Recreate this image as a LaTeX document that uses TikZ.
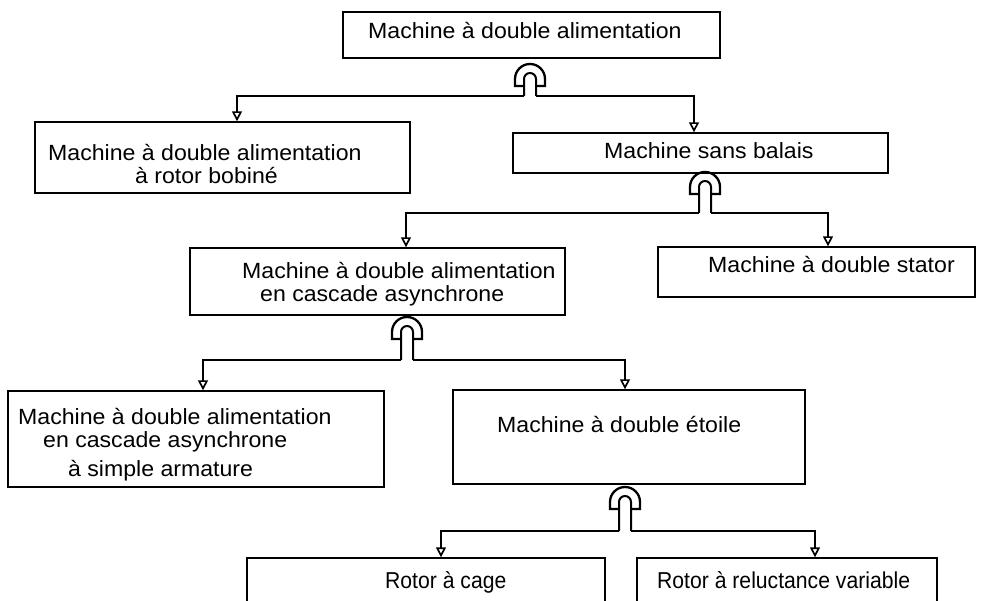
\documentclass[tikz,border=0pt]{standalone}
\usepackage{fontspec}
\setmainfont{Liberation Sans}[FakeStretch=1.05]
\newfontfamily\etroite{Liberation Sans}[FakeStretch=0.92]
\usetikzlibrary{arrows.meta}

\begin{document}
\begin{tikzpicture}[x=1pt,y=-1pt,
	boite/.style={draw,line width=1.4pt,inner sep=0pt},
	etiq/.style={inner sep=0pt,anchor=north west,align=left,font=\fontsize{22}{23}\selectfont},
	etiqbas/.style={inner sep=0pt,anchor=base west,font=\etroite\fontsize{23}{25}\selectfont},
	fleche/.style={line width=1.4pt,-{Triangle[open,length=10pt,width=10pt,line width=1.7pt]}},
	arche/.pic={
		\draw[line width=2.3pt] (-6,7) -- (-15,7) -- (-15,0) arc[start angle=180,end angle=360,radius=15] -- (15,7) -- (6,7);
		\draw[line width=2pt] (-6,#1) -- (-6,0) arc[start angle=180,end angle=360,radius=6] -- (6,#1);
		\coordinate (-l) at (-6,#1);
		\coordinate (-r) at (6,#1);
	}]
	\useasboundingbox (0,0) rectangle (983,601);
	\fill[white] (0,0) rectangle (983,601);
	\clip (0,0) rectangle (983,601);
%	les boites
	\node[boite,minimum width=377,minimum height=46] (mda) at (531.5,35) {};
	\node[boite,minimum width=375,minimum height=71] (bob) at (222.5,157.5) {};
	\node[boite,minimum width=375,minimum height=40] (sb) at (700.5,153) {};
	\node[boite,minimum width=375,minimum height=67] (casc) at (377.5,281.5) {};
	\node[boite,minimum width=317,minimum height=50] (dst) at (816.5,272) {};
	\node[boite,minimum width=376,minimum height=96] (simp) at (196,439) {};
	\node[boite,minimum width=352,minimum height=94] (etoi) at (629,437) {};
	\node[boite,minimum width=358,minimum height=80] (cage) at (426,598) {};
	\node[boite,minimum width=300,minimum height=80] (relu) at (787,598) {};
%	les textes
	\node[etiq] (mda-t) at (368,22) {Machine à double alimentation};
	\node[etiq] (bob-t) at (48,144) {Machine à double alimentation\\\hspace*{87pt}à rotor bobiné};
	\node[etiq] (sb-t) at (604,142) {Machine sans balais};
	\node[etiq] (casc-t) at (242,262) {Machine à double alimentation\\\hspace*{18pt}en cascade asynchrone};
	\node[etiq] (dst-t) at (708,256) {Machine à double stator};
	\node[etiq] (simp-t) at (18,408) {Machine à double alimentation\\\hspace*{25pt}en cascade asynchrone\\[6pt]\hspace*{50pt}à simple armature};
	\node[etiq] (etoi-t) at (497,416) {Machine à double étoile};
	\node[etiqbas] (cage-t) at (385,588) {Rotor à cage};
	\node[etiqbas] (relu-t) at (657,588) {Rotor à reluctance variable};
%	heritage
	\pic (g1) at (530,79) {arche=17};
	\draw[fleche] (g1-l) -| ([xshift=14.5]bob.north);
	\draw[fleche] (g1-r) -| ([xshift=-6.5]sb.north);
	\pic (g2) at (705,187) {arche=26};
	\draw[fleche] (g2-l) -| ([xshift=28.5]casc.north);
	\draw[fleche] (g2-r) -| ([xshift=11.5]dst.north);
	\pic (g3) at (407,332) {arche=28};
	\draw[fleche] (g3-l) -| ([xshift=7]simp.north);
	\draw[fleche] (g3-r) -| ([xshift=-4]etoi.north);
	\pic (g4) at (625,502) {arche=29};
	\draw[fleche] (g4-l) -| ([xshift=15]cage.north);
	\draw[fleche] (g4-r) -| ([xshift=28]relu.north);
\end{tikzpicture}
\end{document}
